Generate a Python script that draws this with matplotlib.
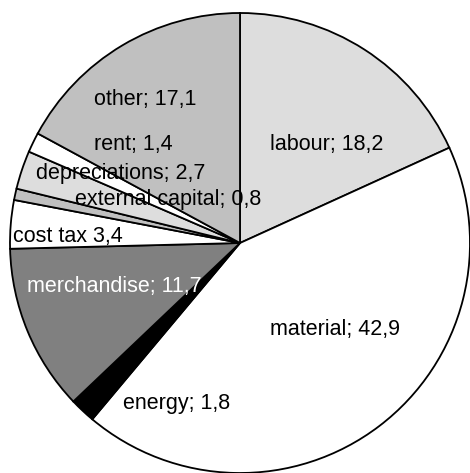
import matplotlib
matplotlib.use("Agg")
import matplotlib.pyplot as plt

categories = ["labour", "material", "energy", "merchandise", "cost tax",
              "external capital", "depreciations", "rent", "other"]
values = [18.2, 42.9, 1.8, 11.7, 3.4, 0.8, 2.7, 1.4, 17.1]
label_texts = ["labour; 18,2", "material; 42,9", "energy; 1,8", "merchandise; 11,7",
               "cost tax 3,4", "external capital; 0,8", "depreciations; 2,7",
               "rent; 1,4", "other; 17,1"]

colors = ["#dddddd", "#ffffff", "#000000", "#808080", "#ffffff",
          "#c0c0c0", "#dddddd", "#ffffff", "#c0c0c0"]
text_colors = ["black", "black", "black", "white", "black",
               "black", "black", "black", "black"]
# label positions (data units, pie radius = 1)
label_pos = [(0.378, 0.430), (0.413, -0.374), (-0.274, -0.696), (-0.548, -0.187),
             (-0.748, 0.030), (-0.313, 0.187), (-0.517, 0.304), (-0.465, 0.430),
             (-0.413, 0.622)]

fig = plt.figure(figsize=(4.70, 4.73), dpi=100)
ax = fig.add_axes([0, 0, 1, 1])
ax.pie(values, colors=colors, startangle=90, counterclock=False, radius=1.0,
       wedgeprops=dict(edgecolor="black", linewidth=1.3))
ax.set_xlim(-240/230, 230/230)
ax.set_ylim(-230/230, 243/230)
ax.set_aspect("auto")
ax.axis("off")

for txt, (x, y), c in zip(label_texts, label_pos, text_colors):
    ax.text(x, y, txt, ha="center", va="center", color=c,
            fontsize=15.5, family=["Liberation Sans", "DejaVu Sans"])

fig.savefig("out.png", dpi=100)
